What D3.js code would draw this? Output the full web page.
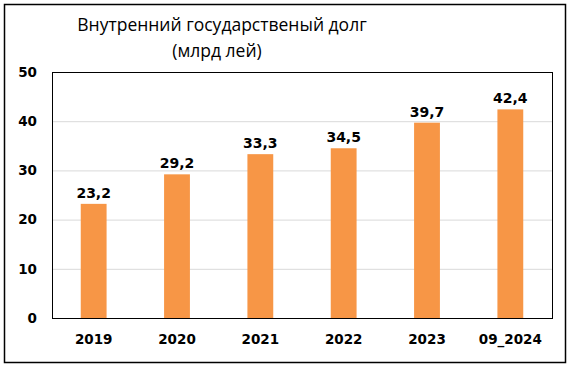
<!DOCTYPE html>
<html><head><meta charset="utf-8">
<script src="https://cdn.jsdelivr.net/npm/d3@7"></script>
<style>body{margin:0;background:#fff}svg{display:block}</style>
</head><body>
<script>
const categories = ["2019","2020","2021","2022","2023","09_2024"];
const values = [23.2,29.2,33.3,34.5,39.7,42.4];
const labels = ["23,2","29,2","33,3","34,5","39,7","42,4"];
const yTicks = [0,10,20,30,40,50];
const titleLines = ["Внутренний государственый долг","(млрд лей)"];

const W=572,H=366;
const svg=d3.select("body").append("svg").attr("width",W).attr("height",H);
svg.append("rect").attr("x",4.5).attr("y",4.5).attr("width",561).attr("height",358)
  .attr("fill","#fff").attr("stroke","#000").attr("stroke-width",1.5);

const m={l:52,r:552,t:72,b:318};
const x=d3.scaleBand().domain(categories).range([m.l,m.r]).paddingInner(0.69).paddingOuter(0.345);
const y=d3.scaleLinear().domain([0,50]).range([m.b,m.t]);

svg.append("g").selectAll("line").data(yTicks.filter(d=>d>0&&d<50)).join("line")
  .attr("x1",m.l).attr("x2",m.r).attr("y1",d=>y(d)+0.5).attr("y2",d=>y(d)+0.5)
  .attr("stroke","#d9d9d9").attr("stroke-width",1);

svg.append("g").selectAll("rect").data(values).join("rect")
  .attr("x",(d,i)=>x(categories[i])).attr("width",x.bandwidth())
  .attr("y",d=>y(d)).attr("height",d=>y(0)-y(d)).attr("fill","#F79646");

svg.append("rect").attr("x",m.l+0.5).attr("y",m.t+0.5).attr("width",m.r-m.l).attr("height",m.b-m.t)
  .attr("fill","none").attr("stroke","#000").attr("stroke-width",1);

const yAxis=d3.axisLeft(y).tickValues(yTicks).tickSize(0).tickPadding(0);
const gy=svg.append("g").attr("transform",`translate(37,0)`).call(yAxis);
gy.select(".domain").remove();
gy.selectAll("text").attr("font-family","DejaVu Sans, Verdana, sans-serif").attr("font-weight","bold").attr("font-size",13.5).attr("fill","#000").attr("dx",0);

const xAxis=d3.axisBottom(x).tickSize(0).tickPadding(0);
const gx=svg.append("g").attr("transform",`translate(0,334)`).call(xAxis);
gx.select(".domain").remove();
gx.selectAll("text").attr("font-family","DejaVu Sans, Verdana, sans-serif").attr("font-weight","bold").attr("font-size",13.5).attr("fill","#000");

svg.append("g").selectAll("text").data(values).join("text")
  .attr("x",(d,i)=>x(categories[i])+x.bandwidth()/2).attr("y",d=>y(d)-6)
  .attr("text-anchor","middle").attr("font-family","DejaVu Sans, Verdana, sans-serif")
  .attr("font-weight","bold").attr("font-size",14).attr("fill","#000").text((d,i)=>labels[i]);

svg.append("g").selectAll("text").data(titleLines).join("text")
  .attr("x",(d,i)=>i?217:222).attr("y",(d,i)=>31+i*26).attr("text-anchor","middle")
  .attr("font-family","Open Sans, sans-serif").attr("font-size",17.5).attr("fill","#000").text(d=>d);
</script>
</body></html>
